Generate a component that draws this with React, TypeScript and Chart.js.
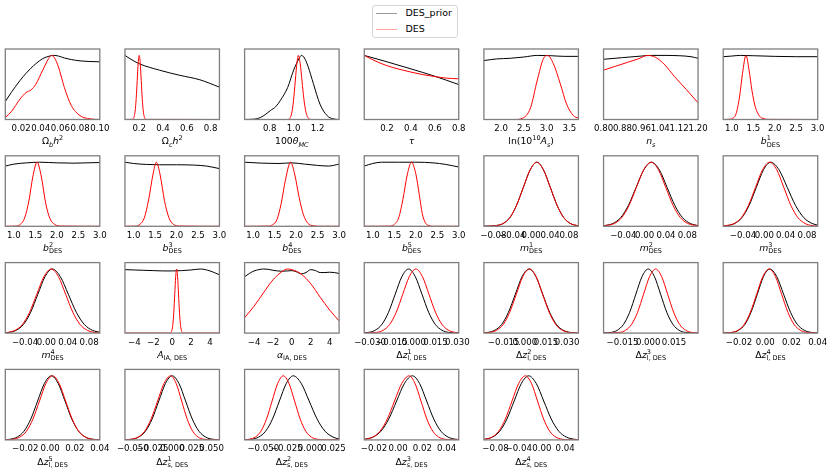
import React, { useEffect, useRef } from 'react';
import { Chart, registerables } from 'chart.js';

Chart.register(...registerables);

type Pt = [number, number];

// ---------------- data ----------------
// Row 1
const obh2Range: Pt = [0.004, 0.1];
const obh2Ticks = [0.02, 0.04, 0.06, 0.08, 0.1];
const obh2Prior: Pt[] = [[0.004,0.28],[0.01,0.42],[0.019,0.61],[0.025,0.72],[0.03,0.8],[0.035,0.87],[0.042,0.95],[0.049,0.99],[0.053,1.0],[0.058,0.99],[0.064,0.96],[0.071,0.935],[0.08,0.915],[0.09,0.905],[0.1,0.9]];
const obh2Des: Pt[] = [[0.004,0.03],[0.01,0.12],[0.019,0.32],[0.025,0.42],[0.03,0.46],[0.035,0.55],[0.042,0.77],[0.048,0.95],[0.051,1.0],[0.054,0.96],[0.058,0.82],[0.064,0.5],[0.071,0.22],[0.08,0.06],[0.09,0.01],[0.1,0.0]];

const och2Range: Pt = [0.08, 0.875];
const och2Ticks = [0.2, 0.4, 0.6, 0.8];
const och2Prior: Pt[] = [[0.08,1.0],[0.13,0.94],[0.2,0.87],[0.37,0.77],[0.54,0.69],[0.71,0.62],[0.875,0.505]];
const och2Des: Pt[] = [[0.08,0],[0.14,0.002],[0.149,0.011],[0.1575,0.044],[0.166,0.135],[0.1745,0.325],[0.183,0.607],[0.1915,0.882],[0.2,1],[0.2085,0.882],[0.217,0.607],[0.2255,0.325],[0.234,0.135],[0.2425,0.044],[0.251,0.011],[0.26,0.002],[0.875,0]];

const thetaRange: Pt = [0.59, 1.38];
const thetaTicks = [0.8, 1.0, 1.2];
const thetaPrior: Pt[] = [[0.59,0],[0.65,0.003],[0.7,0.015],[0.75,0.06],[0.806,0.14],[0.85,0.2],[0.89,0.3],[0.95,0.5],[1.0,0.77],[1.045,0.95],[1.065,1.0],[1.09,0.96],[1.12,0.83],[1.165,0.56],[1.22,0.24],[1.28,0.06],[1.33,0.01],[1.38,0]];
const thetaDes: Pt[] = [[0.59,0],[0.95,0],[0.965,0.011],[0.98,0.07],[0.995,0.23],[1.01,0.52],[1.025,0.84],[1.039,1.0],[1.055,0.87],[1.07,0.6],[1.085,0.33],[1.1,0.14],[1.115,0.045],[1.13,0.01],[1.15,0],[1.38,0]];

const tauRange: Pt = [0.01, 0.8];
const tauTicks = [0.2, 0.4, 0.6, 0.8];
const tauPrior: Pt[] = [[0.01,1.0],[0.2,0.9],[0.4,0.79],[0.6,0.675],[0.8,0.545]];
const tauDes: Pt[] = [[0.01,1.0],[0.1,0.915],[0.2,0.84],[0.3,0.785],[0.4,0.74],[0.5,0.7],[0.6,0.67],[0.7,0.645],[0.8,0.635]];

const asRange: Pt = [1.62, 3.7];
const asTicks = [2.0, 2.5, 3.0, 3.5];
const asPrior: Pt[] = [[1.62,0.92],[1.9,0.945],[2.2,0.955],[2.5,0.975],[2.8,1.0],[3.1,0.995],[3.4,0.985],[3.7,0.985]];
const asDes: Pt[] = [[1.62,0],[2.35,0],[2.43,0.01],[2.55,0.06],[2.65,0.19],[2.79,0.6],[2.93,0.95],[3.02,1.0],[3.15,0.87],[3.3,0.56],[3.44,0.24],[3.59,0.06],[3.7,0.02]];

const nsRange: Pt = [0.8, 1.2];
const nsTicks = [0.8, 0.88, 0.96, 1.04, 1.12, 1.2];
const nsPrior: Pt[] = [[0.8,0.94],[0.88,0.965],[0.96,0.99],[1.0,1.0],[1.06,1.0],[1.12,0.995],[1.17,0.98],[1.2,0.955]];
const nsDes: Pt[] = [[0.8,0.77],[0.85,0.83],[0.9,0.89],[0.95,0.95],[0.985,1.0],[1.02,0.97],[1.06,0.85],[1.1,0.67],[1.15,0.47],[1.2,0.26]];

const biasRange: Pt = [0.8, 3.0];
const biasTicks = [1.0, 1.5, 2.0, 2.5, 3.0];
const b1Prior: Pt[] = [[0.8,0.98],[1.0,0.99],[1.2,1.0],[1.5,0.995],[2.0,0.985],[2.5,0.98],[3.0,0.98]];
const b1Des: Pt[] = [[0.8,0],[0.95,0.004],[1.0,0.012],[1.1,0.09],[1.18,0.35],[1.25,0.72],[1.33,1.0],[1.4,0.78],[1.47,0.45],[1.55,0.19],[1.65,0.05],[1.75,0.012],[1.85,0.002],[3.0,0]];

// Row 2
const b2Prior: Pt[] = [[0.8,0.94],[1.0,0.97],[1.3,0.99],[1.6,1.0],[2.0,0.99],[2.4,0.985],[2.7,0.99],[3.0,0.995]];
const b2Des: Pt[] = [[0.8,0],[1.05,0.003],[1.15,0.03],[1.25,0.13],[1.35,0.4],[1.44,0.77],[1.54,1.0],[1.64,0.77],[1.74,0.36],[1.84,0.12],[1.95,0.03],[2.1,0.004],[3.0,0]];
const b3Prior: Pt[] = [[0.8,1.0],[1.0,0.98],[1.3,0.965],[1.6,0.96],[2.0,0.96],[2.4,0.955],[2.7,0.94],[3.0,0.9]];
const b3Des: Pt[] = [[0.8,0],[1.05,0.003],[1.15,0.03],[1.25,0.13],[1.35,0.41],[1.45,0.8],[1.53,1.0],[1.62,0.8],[1.72,0.4],[1.82,0.14],[1.93,0.03],[2.08,0.004],[3.0,0]];
const b4Prior: Pt[] = [[0.8,1.0],[1.2,0.985],[1.6,0.98],[1.9,0.99],[2.2,0.97],[2.5,0.95],[2.75,0.94],[3.0,0.97]];
const b4Des: Pt[] = [[0.8,0],[1.35,0.003],[1.45,0.025],[1.55,0.1],[1.65,0.35],[1.75,0.72],[1.87,1.0],[1.97,0.8],[2.07,0.45],[2.17,0.18],[2.27,0.05],[2.4,0.008],[2.6,0],[3.0,0]];
const b5Prior: Pt[] = [[0.8,0.94],[1.0,0.98],[1.2,1.0],[1.6,1.0],[2.0,1.0],[2.4,0.99],[2.7,0.965],[3.0,0.925]];
const b5Des: Pt[] = [[0.8,0],[1.4,0.003],[1.5,0.03],[1.6,0.13],[1.7,0.42],[1.8,0.8],[1.9,1.0],[2.0,0.82],[2.08,0.5],[2.15,0.2],[2.22,0.06],[2.3,0.012],[2.45,0],[3.0,0]];

const m1Range: Pt = [-0.1, 0.1];
const m1Ticks = [-0.08, -0.04, 0.0, 0.04, 0.08];
const m1Prior: Pt[] = [[-0.1,0.001],[-0.074,0.012],[-0.059,0.045],[-0.045,0.136],[-0.031,0.326],[-0.0165,0.608],[-0.002,0.882],[0.012,1.0],[0.026,0.882],[0.0405,0.607],[0.055,0.325],[0.069,0.135],[0.083,0.044],[0.1,0.006]];
const m1Des: Pt[] = [[-0.1,0.0005],[-0.074,0.011],[-0.059,0.044],[-0.045,0.135],[-0.031,0.325],[-0.0165,0.607],[-0.002,0.882],[0.012,1.0],[0.026,0.882],[0.0405,0.607],[0.055,0.325],[0.069,0.135],[0.083,0.044],[0.1,0.006]];

const mRange: Pt = [-0.077, 0.1];
const mTicks = [-0.04, 0.0, 0.04, 0.08];
const m2Prior: Pt[] = [[-0.077,0.008],[-0.0595,0.044],[-0.045,0.135],[-0.0305,0.325],[-0.016,0.607],[-0.0015,0.882],[0.013,1.0],[0.0275,0.882],[0.042,0.607],[0.0565,0.325],[0.071,0.135],[0.0855,0.044],[0.1,0.011]];
const m2Des: Pt[] = [[-0.077,0.005],[-0.0568,0.044],[-0.043,0.135],[-0.0293,0.325],[-0.0155,0.607],[-0.0018,0.882],[0.012,1.0],[0.0258,0.882],[0.0395,0.607],[0.0533,0.325],[0.067,0.135],[0.0808,0.044],[0.1,0.008]];
const m3Prior: Pt[] = [[-0.077,0.003],[-0.069,0.011],[-0.0555,0.044],[-0.042,0.135],[-0.0285,0.325],[-0.015,0.607],[-0.0015,0.882],[0.012,1.0],[0.0275,0.882],[0.043,0.607],[0.0585,0.325],[0.074,0.135],[0.0895,0.044],[0.1,0.018]];
const m3Des: Pt[] = [[-0.077,0.004],[-0.0563,0.044],[-0.043,0.135],[-0.0298,0.325],[-0.0165,0.607],[-0.0033,0.882],[0.01,1.0],[0.0233,0.882],[0.0365,0.607],[0.0498,0.325],[0.063,0.135],[0.0763,0.044],[0.0895,0.011],[0.1,0.002]];

// Row 3
const m4Prior: Pt[] = [[-0.077,0.002],[-0.07,0.011],[-0.0565,0.044],[-0.043,0.135],[-0.0295,0.325],[-0.016,0.607],[-0.0025,0.882],[0.011,1.0],[0.026,0.882],[0.041,0.607],[0.056,0.325],[0.071,0.135],[0.086,0.044],[0.1,0.013]];
const m4Des: Pt[] = [[-0.077,0.003],[-0.072,0.011],[-0.0585,0.044],[-0.045,0.135],[-0.0315,0.325],[-0.018,0.607],[-0.0045,0.882],[0.009,1.0],[0.0225,0.882],[0.036,0.607],[0.0495,0.325],[0.063,0.135],[0.0765,0.044],[0.09,0.011],[0.1,0.003]];

const iaRange: Pt = [-5, 5];
const iaTicks = [-4, -2, 0, 2, 4];
const aiaPrior: Pt[] = [[-5,0.99],[-4,0.985],[-3,0.98],[-2,0.975],[-1,0.97],[0,0.97],[1,0.975],[2,0.985],[3,1.0],[4,0.97],[5,0.91]];
const aiaDes: Pt[] = [[-5,0],[-0.2,0],[-0.13,0.011],[-0.03,0.044],[0.07,0.135],[0.17,0.325],[0.27,0.607],[0.37,0.882],[0.47,1.0],[0.57,0.882],[0.67,0.607],[0.77,0.325],[0.87,0.135],[0.97,0.044],[1.07,0.011],[1.2,0],[5,0]];
const alphaPrior: Pt[] = [[-5,0.88],[-4.5,0.93],[-4,0.97],[-3.5,0.99],[-3,1.0],[-2.5,0.995],[-2,0.98],[-1,0.965],[-0.5,0.97],[0,0.975],[0.5,0.955],[1,0.925],[1.5,0.945],[2,0.99],[2.5,0.975],[3,0.945],[3.5,0.945],[4,0.95],[4.5,0.945],[5,0.93]];
const alphaDes: Pt[] = [[-5,0.24],[-4,0.42],[-3,0.63],[-2,0.83],[-1,0.965],[-0.5,1.0],[0,0.99],[1,0.92],[2,0.77],[3,0.56],[4,0.36],[5,0.19]];

const dzl1Range: Pt = [-0.034, 0.031];
const dzl1Ticks = [-0.03, -0.015, 0.0, 0.015, 0.03];
const dzl1Prior: Pt[] = [[-0.034,0.004],[-0.0311,0.011],[-0.0265,0.044],[-0.0219,0.135],[-0.0173,0.325],[-0.0127,0.607],[-0.0081,0.882],[-0.0035,1.0],[0.0011,0.882],[0.0057,0.607],[0.0103,0.325],[0.0149,0.135],[0.0195,0.044],[0.0241,0.011],[0.031,0.001]];
const dzl1Des: Pt[] = [[-0.034,0.0005],[-0.0255,0.011],[-0.021,0.044],[-0.0165,0.135],[-0.012,0.325],[-0.0075,0.607],[-0.003,0.882],[0.0015,1.0],[0.006,0.882],[0.0105,0.607],[0.015,0.325],[0.0195,0.135],[0.024,0.044],[0.0285,0.011],[0.031,0.005]];

const dzl2Range: Pt = [-0.029, 0.038];
const dzl2Ticks = [-0.015, 0.0, 0.015, 0.03];
const dzl2Prior: Pt[] = [[-0.029,0.004],[-0.0261,0.011],[-0.0213,0.044],[-0.0164,0.135],[-0.0116,0.325],[-0.0067,0.607],[-0.0019,0.882],[0.003,1.0],[0.0079,0.882],[0.0127,0.607],[0.0176,0.325],[0.0224,0.135],[0.0273,0.044],[0.0321,0.011],[0.038,0.001]];
const dzl2Des: Pt[] = [[-0.029,0.002],[-0.0246,0.011],[-0.02,0.044],[-0.0153,0.135],[-0.0107,0.325],[-0.006,0.607],[-0.0014,0.882],[0.0033,1.0],[0.008,0.882],[0.0126,0.607],[0.0173,0.325],[0.0219,0.135],[0.0266,0.044],[0.0312,0.011],[0.038,0.0005]];

const dzl3Range: Pt = [-0.026, 0.029];
const dzl3Ticks = [-0.015, 0.0, 0.015];
const dzl3Prior: Pt[] = [[-0.026,0.002],[-0.0216,0.011],[-0.018,0.044],[-0.0144,0.135],[-0.0108,0.325],[-0.0072,0.607],[-0.0036,0.882],[0,1],[0.0036,0.882],[0.0072,0.607],[0.0108,0.325],[0.0144,0.135],[0.018,0.044],[0.0216,0.011],[0.029,0.0004]];
const dzl3Des: Pt[] = [[-0.026,0.0002],[-0.0167,0.011],[-0.0132,0.044],[-0.0097,0.135],[-0.0062,0.325],[-0.0027,0.607],[0.0008,0.882],[0.0043,1],[0.0078,0.882],[0.0113,0.607],[0.0148,0.325],[0.0183,0.135],[0.0218,0.044],[0.0253,0.011],[0.029,0.002]];

const dzl4Range: Pt = [-0.032, 0.04];
const dzTicks2 = [-0.02, 0.0, 0.02, 0.04];
const dzl4Prior: Pt[] = [[-0.032,0.001],[-0.025,0.011],[-0.0203,0.044],[-0.0155,0.135],[-0.0108,0.325],[-0.006,0.607],[-0.0013,0.882],[0.0035,1],[0.0088,0.882],[0.014,0.607],[0.0193,0.325],[0.0245,0.135],[0.0298,0.044],[0.035,0.011],[0.04,0.003]];
const dzl4Des: Pt[] = [[-0.032,0.001],[-0.0255,0.011],[-0.0207,0.044],[-0.016,0.135],[-0.0113,0.325],[-0.0065,0.607],[-0.0018,0.882],[0.003,1],[0.0078,0.882],[0.0125,0.607],[0.0173,0.325],[0.022,0.135],[0.0268,0.044],[0.0315,0.011],[0.04,0.0003]];

// Row 4
const dzl5Range: Pt = [-0.036, 0.04];
const dzl5Prior: Pt[] = [[-0.036,0.002],[-0.032,0.011],[-0.0265,0.044],[-0.021,0.135],[-0.0155,0.325],[-0.01,0.607],[-0.0045,0.882],[0.001,1],[0.0065,0.882],[0.012,0.607],[0.0175,0.325],[0.023,0.135],[0.0285,0.044],[0.034,0.011],[0.04,0.002]];
const dzl5Des: Pt[] = [[-0.036,0.001],[-0.0295,0.011],[-0.0243,0.044],[-0.019,0.135],[-0.0138,0.325],[-0.0085,0.607],[-0.0033,0.882],[0.002,1],[0.0073,0.882],[0.0125,0.607],[0.0178,0.325],[0.023,0.135],[0.0283,0.044],[0.0335,0.011],[0.04,0.001]];

const dzs1Range: Pt = [-0.06, 0.06];
const dzs1Ticks = [-0.05, -0.025, 0.0, 0.025, 0.05];
const dzs1Prior: Pt[] = [[-0.06,0.002],[-0.051,0.011],[-0.0425,0.044],[-0.034,0.135],[-0.0255,0.325],[-0.017,0.607],[-0.0085,0.882],[0,1],[0.0085,0.882],[0.017,0.607],[0.0255,0.325],[0.034,0.135],[0.0425,0.044],[0.051,0.011],[0.06,0.002]];
const dzs1Des: Pt[] = [[-0.06,0.002],[-0.0515,0.011],[-0.0433,0.044],[-0.035,0.135],[-0.0268,0.325],[-0.0185,0.607],[-0.0103,0.882],[-0.002,1],[0.005,0.882],[0.012,0.607],[0.019,0.325],[0.026,0.135],[0.033,0.044],[0.04,0.011],[0.05,0.001],[0.06,0]];

const dzs2Range: Pt = [-0.07, 0.031];
const dzs2Ticks = [-0.05, -0.025, 0.0, 0.025];
const dzs2Prior: Pt[] = [[-0.07,0.002],[-0.0624,0.011],[-0.055,0.044],[-0.0476,0.135],[-0.0402,0.325],[-0.0328,0.607],[-0.0254,0.882],[-0.018,1],[-0.0095,0.882],[-0.001,0.607],[0.0075,0.325],[0.016,0.135],[0.0245,0.044],[0.031,0.013]];
const dzs2Des: Pt[] = [[-0.07,0.003],[-0.0646,0.011],[-0.0586,0.044],[-0.0526,0.135],[-0.0466,0.325],[-0.0406,0.607],[-0.0346,0.882],[-0.0286,1],[-0.0226,0.882],[-0.0166,0.607],[-0.0106,0.325],[-0.0046,0.135],[0.0014,0.044],[0.0074,0.011],[0.015,0.001],[0.031,0]];

const dzs3Range: Pt = [-0.028, 0.05];
const dzs3Prior: Pt[] = [[-0.028,0.009],[-0.0273,0.011],[-0.0208,0.044],[-0.0143,0.135],[-0.0078,0.325],[-0.0013,0.607],[0.0052,0.882],[0.0117,1],[0.0176,0.882],[0.0235,0.607],[0.0294,0.325],[0.0353,0.135],[0.0412,0.044],[0.0471,0.011],[0.05,0.005]];
const dzs3Des: Pt[] = [[-0.028,0.008],[-0.027,0.011],[-0.021,0.044],[-0.015,0.135],[-0.009,0.325],[-0.003,0.607],[0.003,0.882],[0.009,1],[0.0139,0.882],[0.0188,0.607],[0.0237,0.325],[0.0286,0.135],[0.0335,0.044],[0.0384,0.011],[0.045,0.001],[0.05,0]];

const dzs4Range: Pt = [-0.1, 0.063];
const dzs4Ticks = [-0.08, -0.04, 0.0, 0.04];
const dzs4Prior: Pt[] = [[-0.1,0.009],[-0.0978,0.011],[-0.0853,0.044],[-0.0728,0.135],[-0.0603,0.325],[-0.0478,0.607],[-0.0353,0.882],[-0.0228,1],[-0.0098,0.882],[0.0032,0.607],[0.0162,0.325],[0.0292,0.135],[0.0422,0.044],[0.0552,0.011],[0.063,0.003]];
const dzs4Des: Pt[] = [[-0.1,0.008],[-0.0975,0.011],[-0.086,0.044],[-0.0745,0.135],[-0.063,0.325],[-0.0515,0.607],[-0.04,0.882],[-0.0285,1],[-0.018,0.882],[-0.0075,0.607],[0.003,0.325],[0.0135,0.135],[0.024,0.044],[0.0345,0.011],[0.045,0.002],[0.063,0]];

const seriesNames = ['DES_prior', 'DES'];

// ---------------- styles / layout ----------------
const FONT = "'DejaVu Sans', sans-serif";
const TICK_FS = 8.6;
const LABEL_FS = 9.3;
const LEGEND_FS = 9.5;
const COL0 = 5.3;
const COLSTEP = 119.65;
const BOXW = 94.5;
const ROW0 = 49;
const ROWSTEP = 106.8;
const BOXH = 70.5;
const PADX = 24;
const PADT = 3;
const TICKPAD = 4.1;
const LABEL_DY = 15.8;

const Sub = ({ children }: { children: React.ReactNode }) => (
  <span style={{ fontSize: '0.7em', position: 'relative', top: '0.35em' }}>{children}</span>
);
const Sup = ({ children }: { children: React.ReactNode }) => (
  <span style={{ fontSize: '0.7em', position: 'relative', top: '-0.6em' }}>{children}</span>
);
const SS = ({ sup, sub }: { sup: string; sub: string }) => (
  <span style={{ position: 'relative', display: 'inline-block', fontSize: '0.7em', lineHeight: 'normal' }}>
    <span style={{ position: 'absolute', left: 0, top: '-0.6em' }}>{sup}</span>
    <span style={{ position: 'relative', top: '0.35em' }}>{sub}</span>
  </span>
);

interface PanelDef {
  range: Pt;
  ticks: number[];
  dec: number;
  prior: Pt[];
  des: Pt[];
  label: React.ReactNode;
}

const panels: PanelDef[] = [
  { range: obh2Range, ticks: obh2Ticks, dec: 2, prior: obh2Prior, des: obh2Des, label: <>Ω<Sub><i>b</i></Sub><i>h</i><Sup>2</Sup></> },
  { range: och2Range, ticks: och2Ticks, dec: 1, prior: och2Prior, des: och2Des, label: <>Ω<Sub><i>c</i></Sub><i>h</i><Sup>2</Sup></> },
  { range: thetaRange, ticks: thetaTicks, dec: 1, prior: thetaPrior, des: thetaDes, label: <>100<i>θ</i><Sub><i>MC</i></Sub></> },
  { range: tauRange, ticks: tauTicks, dec: 1, prior: tauPrior, des: tauDes, label: <i>τ</i> },
  { range: asRange, ticks: asTicks, dec: 1, prior: asPrior, des: asDes, label: <>ln(10<Sup>10</Sup><i>A</i><Sub><i>s</i></Sub>)</> },
  { range: nsRange, ticks: nsTicks, dec: 2, prior: nsPrior, des: nsDes, label: <><i>n</i><Sub><i>s</i></Sub></> },
  { range: biasRange, ticks: biasTicks, dec: 1, prior: b1Prior, des: b1Des, label: <><i>b</i><SS sup="1" sub="DES" /></> },
  { range: biasRange, ticks: biasTicks, dec: 1, prior: b2Prior, des: b2Des, label: <><i>b</i><SS sup="2" sub="DES" /></> },
  { range: biasRange, ticks: biasTicks, dec: 1, prior: b3Prior, des: b3Des, label: <><i>b</i><SS sup="3" sub="DES" /></> },
  { range: biasRange, ticks: biasTicks, dec: 1, prior: b4Prior, des: b4Des, label: <><i>b</i><SS sup="4" sub="DES" /></> },
  { range: biasRange, ticks: biasTicks, dec: 1, prior: b5Prior, des: b5Des, label: <><i>b</i><SS sup="5" sub="DES" /></> },
  { range: m1Range, ticks: m1Ticks, dec: 2, prior: m1Prior, des: m1Des, label: <><i>m</i><SS sup="1" sub="DES" /></> },
  { range: mRange, ticks: mTicks, dec: 2, prior: m2Prior, des: m2Des, label: <><i>m</i><SS sup="2" sub="DES" /></> },
  { range: mRange, ticks: mTicks, dec: 2, prior: m3Prior, des: m3Des, label: <><i>m</i><SS sup="3" sub="DES" /></> },
  { range: mRange, ticks: mTicks, dec: 2, prior: m4Prior, des: m4Des, label: <><i>m</i><SS sup="4" sub="DES" /></> },
  { range: iaRange, ticks: iaTicks, dec: 0, prior: aiaPrior, des: aiaDes, label: <><i>A</i><Sub>IA, DES</Sub></> },
  { range: iaRange, ticks: iaTicks, dec: 0, prior: alphaPrior, des: alphaDes, label: <><i>α</i><Sub>IA, DES</Sub></> },
  { range: dzl1Range, ticks: dzl1Ticks, dec: 3, prior: dzl1Prior, des: dzl1Des, label: <>Δ<i>z</i><SS sup="1" sub="l, DES" /></> },
  { range: dzl2Range, ticks: dzl2Ticks, dec: 3, prior: dzl2Prior, des: dzl2Des, label: <>Δ<i>z</i><SS sup="2" sub="l, DES" /></> },
  { range: dzl3Range, ticks: dzl3Ticks, dec: 3, prior: dzl3Prior, des: dzl3Des, label: <>Δ<i>z</i><SS sup="3" sub="l, DES" /></> },
  { range: dzl4Range, ticks: dzTicks2, dec: 2, prior: dzl4Prior, des: dzl4Des, label: <>Δ<i>z</i><SS sup="4" sub="l, DES" /></> },
  { range: dzl5Range, ticks: dzTicks2, dec: 2, prior: dzl5Prior, des: dzl5Des, label: <>Δ<i>z</i><SS sup="5" sub="l, DES" /></> },
  { range: dzs1Range, ticks: dzs1Ticks, dec: 3, prior: dzs1Prior, des: dzs1Des, label: <>Δ<i>z</i><SS sup="1" sub="s, DES" /></> },
  { range: dzs2Range, ticks: dzs2Ticks, dec: 3, prior: dzs2Prior, des: dzs2Des, label: <>Δ<i>z</i><SS sup="2" sub="s, DES" /></> },
  { range: dzs3Range, ticks: dzTicks2, dec: 2, prior: dzs3Prior, des: dzs3Des, label: <>Δ<i>z</i><SS sup="3" sub="s, DES" /></> },
  { range: dzs4Range, ticks: dzs4Ticks, dec: 2, prior: dzs4Prior, des: dzs4Des, label: <>Δ<i>z</i><SS sup="4" sub="s, DES" /></> },
];

const fmt = (v: number, dec: number) => {
  const s = (Math.abs(v) < 1e-12 ? 0 : v).toFixed(dec);
  return s.replace('-', '\u2212');
};

const framePlugin = {
  id: 'frame',
  afterDraw(chart: any) {
    const { ctx, chartArea: a } = chart;
    ctx.save();
    ctx.strokeStyle = '#7f7f7f';
    ctx.lineWidth = 1.3;
    ctx.strokeRect(a.left, a.top, a.right - a.left, a.bottom - a.top);
    ctx.restore();
  },
};

function Panel({ def, idx }: { def: PanelDef; idx: number }) {
  const ref = useRef<HTMLCanvasElement>(null);
  const col = idx % 7;
  const row = Math.floor(idx / 7);
  const boxL = COL0 + col * COLSTEP;
  const boxT = ROW0 + row * ROWSTEP;
  const cL = Math.floor(boxL) - PADX;
  const cT = Math.floor(boxT) - PADT;
  const axisH = TICK_FS * 1.2 + 2 * TICKPAD;
  const cW = Math.ceil(BOXW + 2 * PADX + 2);
  const cH = Math.ceil(boxT - cT + BOXH + axisH + 2);
  const padL = boxL - cL;
  const padT = boxT - cT;
  const padR = cW - padL - BOXW;
  const padB = cH - padT - BOXH - axisH;

  useEffect(() => {
    if (!ref.current) return;
    const chart = new Chart(ref.current, {
      type: 'line',
      data: {
        datasets: [
          {
            label: seriesNames[1],
            data: def.des.map(([x, y]) => ({ x, y })),
            borderColor: '#ff0000',
            borderWidth: 1,
            pointRadius: 0,
            fill: false,
            cubicInterpolationMode: 'monotone',
            order: 1,
          },
          {
            label: seriesNames[0],
            data: def.prior.map(([x, y]) => ({ x, y })),
            borderColor: '#000000',
            borderWidth: 1,
            pointRadius: 0,
            fill: false,
            cubicInterpolationMode: 'monotone',
            order: 2,
          },
        ],
      },
      options: {
        responsive: false,
        animation: false,
        events: [],
        layout: { padding: { left: padL, right: padR, top: padT, bottom: padB } },
        plugins: { legend: { display: false }, tooltip: { enabled: false }, title: { display: false } },
        scales: {
          x: {
            type: 'linear',
            min: def.range[0],
            max: def.range[1],
            grid: { display: false, drawTicks: false },
            border: { display: false },
            afterBuildTicks: (axis: any) => {
              axis.ticks = def.ticks.map((v) => ({ value: v }));
            },
            ticks: {
              autoSkip: false,
              maxRotation: 0,
              minRotation: 0,
              padding: TICKPAD,
              color: '#000000',
              font: { family: FONT, size: TICK_FS },
              callback: (v: any) => fmt(Number(v), def.dec),
            },
          },
          y: { display: false, min: 0, max: 1.1 },
        },
      } as any,
      plugins: [framePlugin],
    });
    return () => chart.destroy();
  }, [def]);

  return (
    <>
      <canvas
        ref={ref}
        width={cW}
        height={cH}
        style={{ position: 'absolute', left: cL, top: cT, width: cW, height: cH }}
      />
      <div
        style={{
          position: 'absolute',
          left: boxL + BOXW / 2 - 70,
          width: 140,
          top: boxT + BOXH + LABEL_DY,
          textAlign: 'center',
          fontFamily: FONT,
          fontSize: LABEL_FS,
          lineHeight: 'normal',
          whiteSpace: 'nowrap',
          color: '#000',
        }}
      >
        {def.label}
      </div>
    </>
  );
}

function Legend() {
  const row = (color: string, text: string, top: number) => (
    <div style={{ position: 'absolute', left: 0, top, width: 84, height: 14 }}>
      <div style={{ position: 'absolute', left: 3, top: 7, width: 21, height: 1, background: color }} />
      <div style={{ position: 'absolute', left: 32.5, top: 0, fontFamily: FONT, fontSize: LEGEND_FS, lineHeight: '14px', whiteSpace: 'nowrap', color: '#000' }}>
        {text}
      </div>
    </div>
  );
  return (
    <div
      style={{
        position: 'absolute',
        left: 372,
        top: 4.5,
        width: 83.5,
        height: 31,
        border: '1px solid #d6d6d6',
        borderRadius: 3,
        background: '#fff',
        boxSizing: 'content-box',
      }}
    >
      {row('#9a9a9a', seriesNames[0], 0.5)}
      {row('#ffa3a3', seriesNames[1], 16.3)}
    </div>
  );
}

export default function App() {
  return (
    <div style={{ position: 'absolute', left: 0, top: 0, width: 830, height: 476, background: '#ffffff', overflow: 'hidden' }}>
      <Legend />
      {panels.map((p, i) => (
        <Panel key={i} def={p} idx={i} />
      ))}
    </div>
  );
}
